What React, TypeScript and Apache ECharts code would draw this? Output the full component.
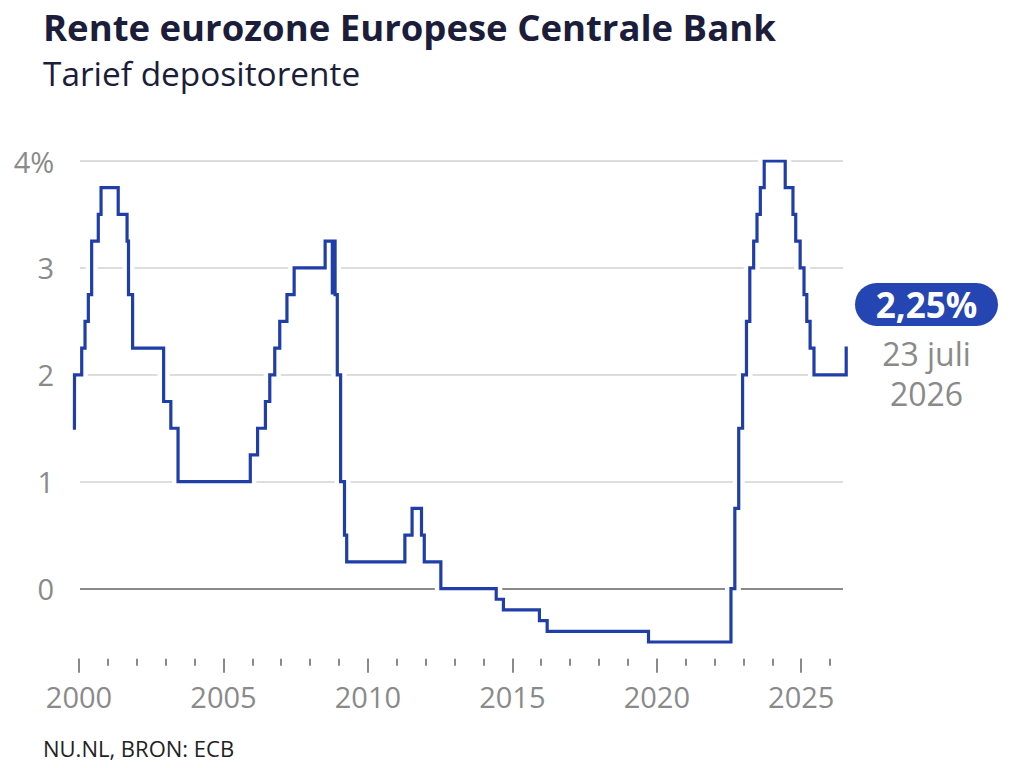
import React, { useEffect, useRef } from "react";
import * as echarts from "echarts";

// ECB deposit facility rate: date of change and new rate (%)
const rateDates = [
  "1999-11-04", "1999-11-05", "2000-02-04", "2000-03-17", "2000-04-28", "2000-06-09",
  "2000-09-01", "2000-10-06", "2001-05-11", "2001-08-31", "2001-09-18", "2001-11-09",
  "2002-12-06", "2003-03-07", "2003-06-06", "2005-12-06", "2006-03-08", "2006-06-15",
  "2006-08-09", "2006-10-11", "2006-12-13", "2007-03-14", "2007-06-13", "2008-07-09",
  "2008-10-08", "2008-10-09", "2008-11-12", "2008-12-10", "2009-01-21", "2009-03-11",
  "2009-04-08", "2011-04-13", "2011-07-13", "2011-11-09", "2011-12-14", "2012-07-11",
  "2014-06-11", "2014-09-10", "2015-12-09", "2016-03-16", "2019-09-18", "2022-07-27",
  "2022-09-14", "2022-11-02", "2022-12-21", "2023-02-08", "2023-03-22", "2023-05-10",
  "2023-06-21", "2023-08-02", "2023-09-20", "2024-06-12", "2024-09-18", "2024-10-23",
  "2024-12-18", "2025-02-05", "2025-03-12", "2025-04-23", "2025-06-11", "2026-07-23",
];
const rateValues = [
  1.5, 2.0, 2.25, 2.5, 2.75, 3.25,
  3.5, 3.75, 3.5, 3.25, 2.75, 2.25,
  1.75, 1.5, 1.0, 1.25, 1.5, 1.75,
  2.0, 2.25, 2.5, 2.75, 3.0, 3.25,
  2.75, 3.25, 2.75, 2.0, 1.0, 0.5,
  0.25, 0.5, 0.75, 0.5, 0.25, 0.0,
  -0.1, -0.2, -0.3, -0.4, -0.5, 0.0,
  0.75, 1.5, 2.0, 2.5, 3.0, 3.25,
  3.5, 3.75, 4.0, 3.75, 3.5, 3.25,
  3.0, 2.75, 2.5, 2.25, 2.0, 2.25,
];

const majorYears = [2000, 2005, 2010, 2015, 2020, 2025];
const minorYears = [
  2000, 2001, 2002, 2003, 2004, 2005, 2006, 2007, 2008, 2009, 2010, 2011, 2012, 2013,
  2014, 2015, 2016, 2017, 2018, 2019, 2020, 2021, 2022, 2023, 2024, 2025, 2026,
];
const yTicks = [0, 1, 2, 3, 4];
const xMin = "1999-11-01";
const xMax = "2026-07-23";
const gridStart = "2000-01-13";
const gridEnd = "2026-06-12";
const yMin = -0.6;
const yMax = 4;

const titleText = "Rente eurozone Europese Centrale Bank";
const subtitleText = "Tarief depositorente";
const sourceText = "NU.NL, BRON: ECB";
const lastDateLabel = ["23 juli", "2026"];

const FONT = '"Open Sans", "Noto Sans", sans-serif';
const BLUE = "#1f3ea8";
const GRAY = "#8a8a8a";
const DARK = "#1b1d3a";

// date string -> fractional year
const toYear = (s: string) => {
  const [y, m, d] = s.split("-").map(Number);
  const start = Date.UTC(y, 0, 1);
  const end = Date.UTC(y + 1, 0, 1);
  return y + (Date.UTC(y, m - 1, d) - start) / (end - start);
};

export default function App() {
  const ref = useRef<HTMLDivElement>(null);

  useEffect(() => {
    if (!ref.current) return;
    const chart = echarts.init(ref.current, null, { renderer: "svg" });
    const lineData = rateDates.map((d, i) => [toYear(d), rateValues[i]]);
    const lastValue = rateValues[rateValues.length - 1];
    const lastLabel = lastValue.toFixed(2).replace(".", ",") + "%";

    const gridLines = yTicks.map((v) => [
      {
        coord: [toYear(gridStart), v],
        lineStyle: v === 0
          ? { color: GRAY, width: 2, type: "solid" }
          : { color: "#d2d2d2", width: 1.5, type: "solid" },
      },
      { coord: [toYear(gridEnd), v] },
    ]);

    const xCommon = {
      type: "value",
      min: toYear(xMin),
      max: toYear(xMax),
      position: "bottom",
      offset: 6,
      axisLine: { show: false, onZero: false },
      splitLine: { show: false },
    };

    chart.setOption({
      animation: false,
      backgroundColor: "#ffffff",
      textStyle: { fontFamily: FONT },
      grid: { left: 74.2, right: 177.8, top: 161, bottom: 115.3, containLabel: false },
      xAxis: [
        {
          ...xCommon,
          axisTick: {
            show: true,
            length: 14,
            customValues: majorYears,
            lineStyle: { color: GRAY, width: 2 },
          },
          axisLabel: {
            show: true,
            customValues: majorYears,
            formatter: (v: number) => String(Math.round(v)),
            color: GRAY,
            fontSize: 29,
            fontFamily: FONT,
            margin: 23,
            hideOverlap: false,
          },
        },
        {
          ...xCommon,
          axisTick: {
            show: true,
            length: 7,
            customValues: minorYears,
            lineStyle: { color: GRAY, width: 2 },
          },
          axisLabel: { show: false },
        },
      ],
      yAxis: {
        type: "value",
        min: yMin,
        max: yMax,
        splitLine: { show: false },
        axisLine: { show: false },
        axisTick: { show: false },
        axisLabel: {
          customValues: yTicks,
          formatter: (v: number) => (v === yMax ? `${v}%` : String(v)),
          color: GRAY,
          fontSize: 29,
          fontFamily: FONT,
          margin: 20,
          padding: [0, 0, 14, 0],
          verticalAlign: "middle",
        },
      },
      series: [
        {
          type: "line",
          data: [],
          z: 1,
          silent: true,
          markLine: {
            silent: true,
            z: 1,
            symbol: ["none", "none"],
            label: { show: false },
            emphasis: { disabled: true },
            data: gridLines,
          },
        },
        {
          type: "line",
          step: "end",
          data: lineData,
          showSymbol: false,
          silent: true,
          z: 3,
          lineStyle: { color: "#ffffff", width: 12, join: "miter" },
        },
        {
          type: "line",
          step: "end",
          data: lineData,
          showSymbol: false,
          silent: true,
          z: 4,
          lineStyle: { color: BLUE, width: 3.2, join: "miter", cap: "square" },
        },
      ],
      graphic: [
        {
          type: "text",
          x: 43,
          y: 27,
          style: {
            text: titleText,
            fill: DARK,
            fontSize: 36.5,
            fontWeight: "bold",
            fontFamily: FONT,
            verticalAlign: "middle",
          },
        },
        {
          type: "text",
          x: 43,
          y: 73,
          style: {
            text: subtitleText,
            fill: DARK,
            fontSize: 33.4,
            fontFamily: FONT,
            verticalAlign: "middle",
          },
        },
        {
          type: "text",
          x: 43,
          y: 748,
          style: {
            text: sourceText,
            fill: "#222222",
            fontSize: 22,
            fontFamily: FONT,
            verticalAlign: "middle",
          },
        },
        {
          type: "rect",
          shape: { x: 855, y: 283, width: 143, height: 43, r: 21.5 },
          style: { fill: "#2445b2" },
        },
        {
          type: "text",
          x: 926.5,
          y: 304,
          style: {
            text: lastLabel,
            fill: "#ffffff",
            fontSize: 35,
            fontWeight: "bold",
            fontFamily: FONT,
            align: "center",
            verticalAlign: "middle",
          },
        },
        {
          type: "text",
          x: 926.5,
          y: 353,
          style: {
            text: lastDateLabel[0],
            fill: GRAY,
            fontSize: 32,
            fontFamily: FONT,
            align: "center",
            verticalAlign: "middle",
          },
        },
        {
          type: "text",
          x: 926.5,
          y: 393,
          style: {
            text: lastDateLabel[1],
            fill: GRAY,
            fontSize: 32,
            fontFamily: FONT,
            align: "center",
            verticalAlign: "middle",
          },
        },
      ],
    });

    return () => chart.dispose();
  }, []);

  return (
    <div
      ref={ref}
      style={{ position: "absolute", left: 0, top: 0, width: 1024, height: 768, background: "#fff" }}
    />
  );
}
